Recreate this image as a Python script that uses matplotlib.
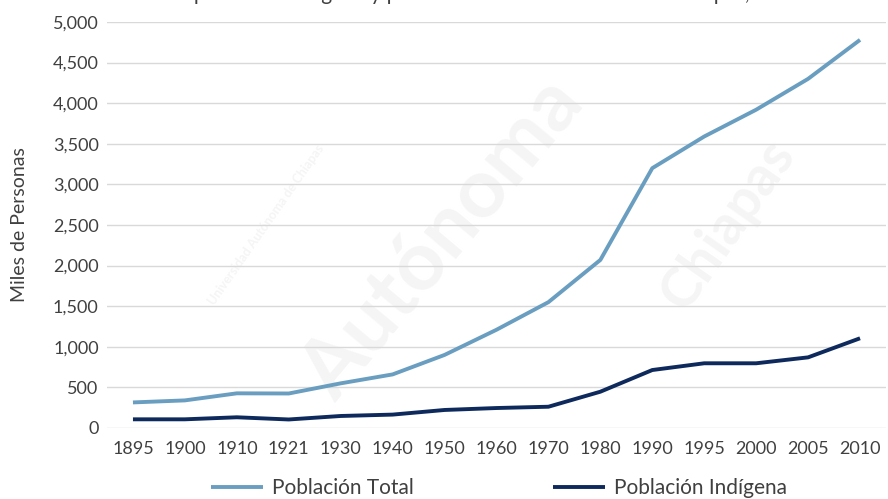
import numpy as np
import matplotlib
matplotlib.use("Agg")
import matplotlib.pyplot as plt

# datos (miles de personas)
years = ["1895", "1900", "1910", "1921", "1930", "1940", "1950", "1960",
         "1970", "1980", "1990", "1995", "2000", "2005", "2010"]
pob_total = [315, 340, 427, 425, 550, 660, 900, 1210, 1550, 2070, 3200, 3590, 3920, 4300, 4780]
pob_indigena = [107, 107, 132, 105, 148, 165, 222, 246, 262, 447, 714, 797, 797, 870, 1105]
yticks = [0, 500, 1000, 1500, 2000, 2500, 3000, 3500, 4000, 4500, 5000]

plt.rcParams['font.family'] = ['Lato', 'DejaVu Sans']
txt = '#404040'

fig = plt.figure(figsize=(8.88, 4.99), dpi=100)

# marca de agua tenue (detras de todo)
wm = [("Autónoma", 0.50, 0.52, 60, 50),
      ("Universidad Autónoma de Chiapas", 0.30, 0.55, 9, 55),
      ("Chiapas", 0.82, 0.55, 40, 55)]
for s, x, y, fs, rot in wm:
    fig.text(x, y, s, fontsize=fs, rotation=rot, color='#f5f5f5',
             ha='center', va='center', fontweight='bold', zorder=-10)

ax = fig.add_axes([107/888, 1-428/499, 779/888, 406/499])
ax.patch.set_alpha(0)
x = np.arange(len(years))
ax.plot(x, pob_total, color='#6a9ec0', lw=2.8, label='Población Total', solid_capstyle='butt')
ax.plot(x, pob_indigena, color='#0e2a5c', lw=2.8, label='Población Indígena', solid_capstyle='butt')

ax.set_xlim(-0.5, len(years) - 0.5)
ax.set_ylim(0, 5000)
ax.set_xticks(x)
ax.set_xticklabels(years)
ax.set_yticks(yticks)
ax.set_yticklabels([f"{v:,}" for v in yticks])
ax.tick_params(length=0, labelsize=13, colors=txt, pad=6)
ax.tick_params(axis='x', pad=9)
ax.grid(axis='y', color='#d9d9d9', lw=1)
ax.set_axisbelow(True)
for sp in ax.spines.values():
    sp.set_visible(False)
ax.set_ylabel('Miles de Personas', fontsize=14, color=txt, labelpad=18)

fig.legend(loc='lower center', bbox_to_anchor=(0.562, -0.036), ncol=2, frameon=False,
           fontsize=15, handlelength=2.5, handletextpad=0.4, columnspacing=6.7,
           labelcolor=txt)

# titulo cortado en el borde superior
fig.text(0.5, 1.012, "Crecimiento de la población indígena y población total en el estado de Chiapas, 1895-2010",
         fontsize=15, color=txt, ha='center', va='center')

fig.savefig('out.png', dpi=100)
